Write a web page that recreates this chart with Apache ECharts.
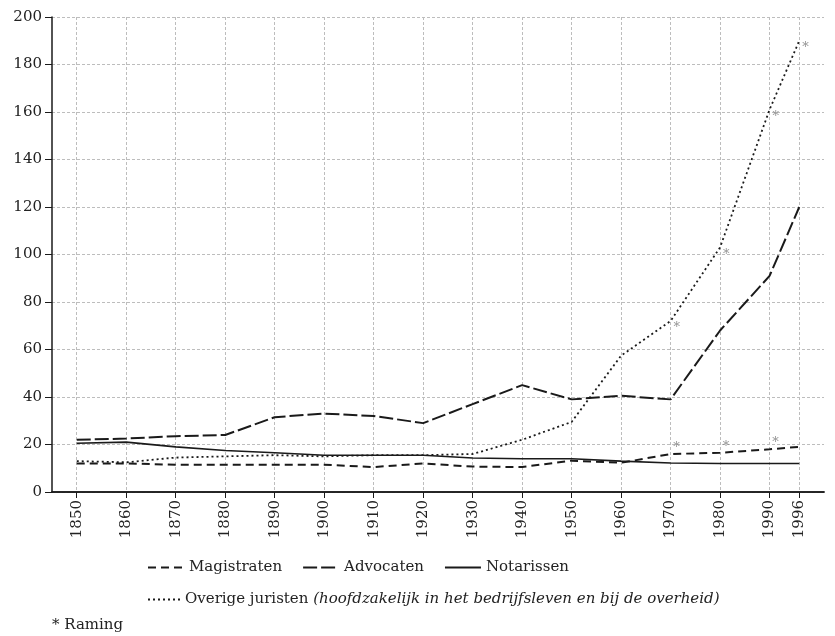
<!DOCTYPE html>
<html><head><meta charset="utf-8">
<script src="https://cdn.jsdelivr.net/npm/echarts@6/dist/echarts.min.js"></script>
<style>html,body{margin:0;padding:0;background:#fff}#c{width:835px;height:636px}</style>
</head><body><div id="c"></div>
<script>
const years = [1850,1860,1870,1880,1890,1900,1910,1920,1930,1940,1950,1960,1970,1980,1990,1996];
const magistraten = [12,12,11.5,11.5,11.5,11.5,10.5,12,10.7,10.5,13.2,12.3,16,16.5,18,19];
const advocaten   = [22,22.5,23.5,24,31.5,33,32,29,37,45,39,40.5,39,68,91,120];
const notarissen  = [20.5,21,19,17.5,16.5,15.5,15.5,15.5,14.3,14,14,13,12.2,12,12,12];
const overige     = [13,12.5,14.5,15,15.5,15,15.5,15.5,16,22,29.5,57.4,72,103,161,190];
const yTicks = [0,20,40,60,80,100,120,140,160,180,200];
const ramingOverigeYears = [1970,1980,1990,1996];
const ramingMagistratenYears = [1970,1980,1990];

const FONT = 'DejaVu Serif';
const INK = '#1a1a1a';
const pairs = arr => years.map((y,i)=>[y,arr[i]]);
const pick = (arr, ys) => ys.map(y => [y, arr[years.indexOf(y)]]);

const chart = echarts.init(document.getElementById('c'), null, {renderer:'canvas'});
const gridLine = {show:true, lineStyle:{color:'#bdbdbd', width:1, type:[3,2]}};
chart.setOption({
  animation:false,
  backgroundColor:'#fff',
  textStyle:{fontFamily:FONT},
  grid:{left:52, right:11, top:17, bottom:144, containLabel:false},
  xAxis:[{
    type:'value', min:1845, max:2001,
    axisLine:{show:true, onZero:false, lineStyle:{color:INK, width:1.5}},
    axisTick:{show:true, customValues:years, length:6, lineStyle:{color:INK}},
    axisLabel:{customValues:years, formatter:v=>String(v), rotate:90, margin:8, fontFamily:FONT, fontSize:15, color:'#222'},
    splitLine:gridLine
  },{
    type:'value', min:1845, max:2001, position:'top',
    axisLine:{show:true, lineStyle:{color:INK, width:1.5}},
    axisTick:{show:false}, axisLabel:{show:false}, splitLine:{show:false}
  }],
  yAxis:{
    type:'value', min:yTicks[0], max:yTicks[yTicks.length-1], interval:20,
    axisLine:{show:true, lineStyle:{color:INK, width:1.5}},
    axisTick:{show:true, length:7, lineStyle:{color:INK}},
    axisLabel:{fontFamily:FONT, fontSize:15, color:'#222', margin:10},
    splitLine:gridLine
  },
  legend:[{
    data:['Magistraten','Advocaten','Notarissen'],
    left:142, top:555, itemWidth:36, itemHeight:14, itemGap:20,
    itemStyle:{opacity:0},
    textStyle:{fontFamily:FONT, fontSize:15, color:'#222'}
  },{
    data:['Overige juristen'],
    left:142, top:587, itemWidth:32, itemHeight:14,
    itemStyle:{opacity:0},
    formatter: n => '{a|' + n + '} {b|(hoofdzakelijk in het bedrijfsleven en bij de overheid)}',
    textStyle:{fontFamily:FONT, fontSize:15, color:'#222',
      rich:{a:{fontFamily:FONT, fontSize:15, color:'#222'}, b:{fontFamily:FONT, fontSize:15, fontStyle:'italic', color:'#222'}}}
  }],
  graphic:[{type:'text', left:52, top:618, style:{text:'* Raming', font:'15px "DejaVu Serif"', fill:'#222'}}],
  series:[
    {name:'Magistraten', type:'line', data:pairs(magistraten), symbol:'none', lineStyle:{color:INK, width:2, type:[8,5]}, itemStyle:{color:INK}},
    {name:'Advocaten', type:'line', data:pairs(advocaten), symbol:'none', lineStyle:{color:INK, width:2, type:[14,4]}, itemStyle:{color:INK}},
    {name:'Notarissen', type:'line', data:pairs(notarissen), symbol:'none', lineStyle:{color:INK, width:1.6}, itemStyle:{color:INK}},
    {name:'Overige juristen', type:'line', data:pairs(overige), symbol:'none', lineStyle:{color:INK, width:1.8, type:[2,3]}, itemStyle:{color:INK}},
    {name:'ramingO', type:'scatter', symbolSize:0, silent:true,
      data: pick(overige, ramingOverigeYears),
      label:{show:true, formatter:'*', position:'right', offset:[-2,7], fontFamily:FONT, fontSize:13, color:'#777'}},
    {name:'ramingM', type:'scatter', symbolSize:0, silent:true,
      data: pick(magistraten, ramingMagistratenYears),
      label:{show:true, formatter:'*', position:'top', offset:[6,5], fontFamily:FONT, fontSize:13, color:'#777'}}
  ]
});
</script></body></html>
